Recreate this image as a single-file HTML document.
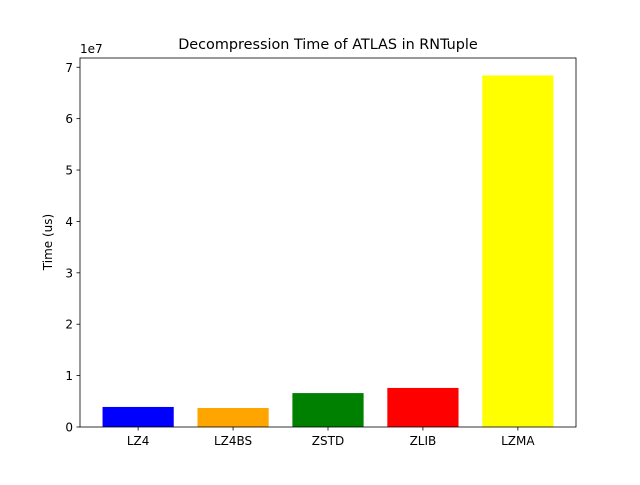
<!DOCTYPE html>
<html><head><meta charset="utf-8"><style>
body{margin:0;background:#fff;}
svg text{font-family:"DejaVu Sans","Liberation Sans",sans-serif;}
</style></head><body>
<svg id="chart" width="640" height="480" xmlns="http://www.w3.org/2000/svg">
<rect width="640" height="480" fill="#fff"/>
<text x="328" y="49" font-size="14.4" text-anchor="middle">Decompression Time of ATLAS in RNTuple</text>
<text x="80" y="53" font-size="12">1e7</text>
<text transform="translate(52,242) rotate(-90)" font-size="12" text-anchor="middle">Time (us)</text>
<g id="bars"></g>
<g id="axes"></g>
</svg>
<script>
const categories=["LZ4","LZ4BS","ZSTD","ZLIB","LZMA"];
const values=[3.9e6,3.7e6,6.6e6,7.6e6,6.84e7];
const colors=["blue","orange","green","red","yellow"];
const yTicks=[0,1,2,3,4,5,6,7];
const L=80,R=576,T=58,B=427;
const bw=0.75;
const xmin=-bw/2-(4+bw)*0.05,xmax=4+bw/2+(4+bw)*0.05,ymax=7.18e7;
const xs=v=>L+(v-xmin)/(xmax-xmin)*(R-L);
const ys=v=>B-v/ymax*(B-T);
const NS="http://www.w3.org/2000/svg";
const bars=document.getElementById('bars'),axes=document.getElementById('axes');
function mk(tag,attrs,parent){const e=document.createElementNS(NS,tag);for(const k in attrs)e.setAttribute(k,attrs[k]);parent.appendChild(e);return e;}
categories.forEach((c,i)=>{
  const r=mk('rect',{x:xs(i-bw/2),y:ys(values[i]),width:xs(i+bw/2)-xs(i-bw/2),height:B-ys(values[i]),fill:colors[i]},bars);
  
  
  mk('line',{x1:xs(i),x2:xs(i),y1:B,y2:B+3.5,stroke:'#000','stroke-width':0.8},axes);
  const t=mk('text',{x:xs(i),y:B+18,'font-size':12,'text-anchor':'middle'},axes);
  t.textContent=c;
  
  
});
yTicks.forEach(v=>{
  const y=ys(v*1e7);
  mk('line',{x1:L-3.5,x2:L,y1:y,y2:y,stroke:'#000','stroke-width':0.8},axes);
  const t=mk('text',{x:L-7,y:y+4.5,'font-size':12,'text-anchor':'end'},axes);
  t.textContent=v;
  
  
});
const f=mk('rect',{x:L,y:T,width:R-L,height:B-T,fill:'none',stroke:'#000','stroke-width':0.8},axes);


</script>
</body></html>
